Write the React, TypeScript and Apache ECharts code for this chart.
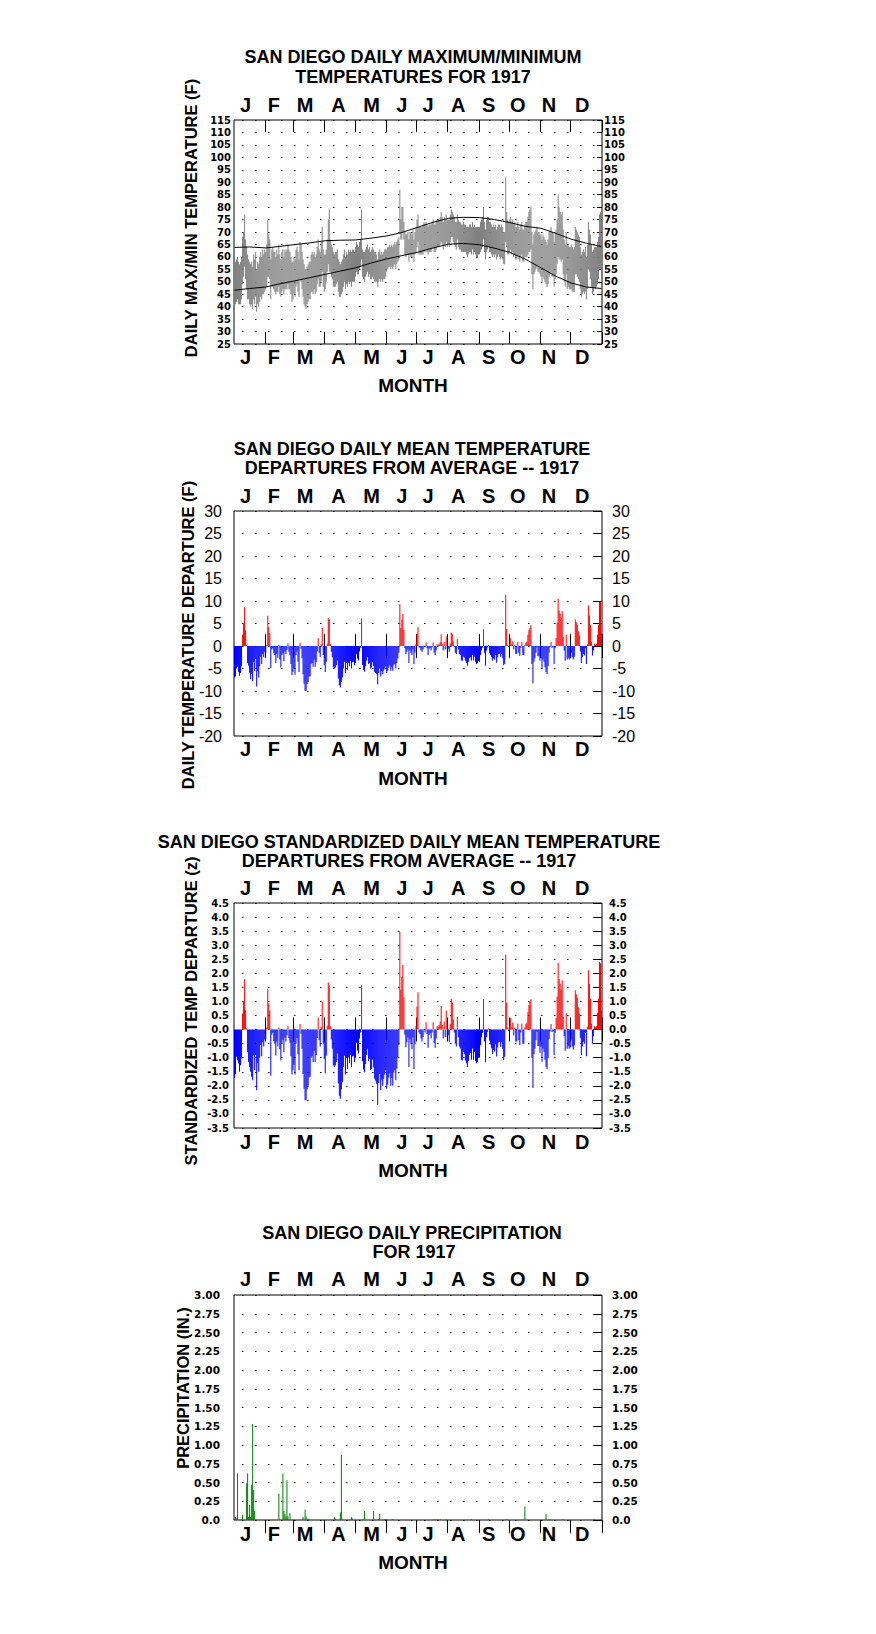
import React, { useEffect, useRef } from 'react';
import * as echarts from 'echarts';

// ---------- axis categories ----------
const MONTH_LETTERS = ['J', 'F', 'M', 'A', 'M', 'J', 'J', 'A', 'S', 'O', 'N', 'D'];
const MONTH_START_DAYS = [0, 31, 59, 90, 120, 151, 181, 212, 243, 273, 304, 334];
const MONTH_LABEL_DAYS = [11, 39, 70, 103, 136, 166, 192, 222, 252, 281, 312, 345];
const DAYS = Array.from({ length: 365 }, (_, i) => String(i));

// ---------- panel 1: daily max / min (F) ----------
const DAILY_MAX = [
  57,58,59,60,58,57,58,60,68,70,77,67,64,61,59,58,57,58,56,61,59,62,55,58,57,60,62,60,63,61,63,
  62,65,75,69,67,59,63,64,62,62,60,63,61,65,61,59,62,63,60,63,62,63,65,63,62,60,58,58,
  60,59,63,64,62,59,66,65,62,59,57,55,55,56,57,58,58,61,62,61,62,60,61,64,67,63,62,66,72,63,61,
  61,63,67,75,79,67,65,64,62,61,62,62,63,59,58,57,58,59,61,63,60,62,61,63,62,63,62,63,63,62,
  64,66,65,64,66,67,79,63,62,62,63,64,65,63,64,62,63,64,63,62,62,61,59,62,63,61,62,61,62,63,63,
  63,64,64,65,64,65,64,65,66,65,66,67,68,87,75,80,80,74,70,69,69,70,67,70,70,69,71,67,70,72,
  75,77,72,72,72,72,73,74,73,74,73,72,73,73,73,74,75,73,73,74,75,75,75,76,78,76,74,76,75,77,75,
  75,75,77,79,78,77,76,74,74,77,75,74,74,73,73,74,73,73,72,72,72,73,73,72,74,72,73,72,72,72,72,
  72,74,75,76,80,74,71,75,76,76,74,74,73,72,73,72,73,71,72,73,73,72,73,72,70,70,92,78,75,74,
  75,76,74,75,73,74,72,72,74,72,71,73,74,71,71,73,74,74,76,78,79,80,70,65,69,70,71,72,70,70,69,
  69,67,69,68,67,66,65,67,70,71,72,70,70,66,69,71,75,85,80,78,77,78,71,67,65,70,65,65,64,64,
  65,64,63,64,72,71,70,69,68,64,61,62,63,62,64,60,65,74,71,69,65,62,63,64,64,64,66,68,77,78,67,
];
const DAILY_MIN = [
  40,41,42,43,41,41,41,43,49,52,56,51,47,43,43,41,40,41,39,43,41,44,38,41,40,42,44,43,45,45,46,
  47,48,52,52,51,43,48,48,47,46,45,46,46,48,45,44,46,47,45,47,47,47,49,47,47,45,42,43,
  45,44,48,49,46,44,51,50,47,44,41,40,39,41,42,43,43,46,46,45,47,45,46,49,51,48,48,50,54,48,46,
  47,50,54,57,54,54,52,51,48,48,48,49,50,46,44,44,45,46,48,50,47,49,48,50,49,50,48,50,50,50,
  52,54,53,53,55,56,59,52,51,50,52,53,54,52,53,51,51,52,51,50,50,50,48,50,51,50,51,50,51,51,52,
  54,55,56,56,55,56,55,56,57,55,57,58,59,70,67,67,70,67,61,60,61,61,58,61,60,60,61,58,61,62,
  64,66,61,61,61,61,61,62,62,63,62,61,62,62,62,63,64,62,62,63,64,64,64,65,66,65,63,65,64,66,64,
  65,64,66,68,68,66,65,64,63,67,64,63,63,62,62,62,62,62,61,60,61,62,62,61,63,61,62,61,60,60,61,
  61,62,63,64,67,62,59,62,63,64,62,62,61,60,61,60,61,59,60,61,60,59,60,59,57,57,66,64,61,61,
  62,63,61,62,60,61,59,59,61,59,58,60,61,58,58,60,60,60,61,62,62,63,53,47,53,54,55,56,54,54,53,
  52,50,52,51,50,49,48,49,52,53,54,52,52,48,51,53,57,60,59,59,58,59,53,50,48,53,47,48,47,47,
  47,46,46,46,53,53,52,51,50,47,44,45,46,45,46,43,47,55,54,51,48,45,46,48,47,48,49,51,55,55,50,
];
const NORMAL_DAYS = [0,15,31,45,59,74,90,105,120,135,151,166,181,196,212,227,243,258,273,288,304,319,334,349,364];
const NORMAL_MAX = [63.8,64.0,63.6,64.2,64.9,65.6,66.5,66.7,66.8,67.5,68.4,69.8,71.8,73.8,75.5,75.9,75.8,75.0,73.8,72.3,71.5,69.4,67.1,65.5,64.1];
const NORMAL_MIN = [46.6,47.3,47.9,49.2,50.3,51.6,53.0,54.3,55.6,57.5,59.2,60.5,61.8,63.5,65.1,65.4,64.9,63.5,61.8,59.2,55.6,52.2,49.5,47.9,47.3];

// ---------- panel 2: daily mean departure (F) ----------
const DEPARTURE = [
  -7.0,-6.8,-5.0,-4.6,-5.8,-6.6,-6.0,-4.5,2.5,5.0,8.6,3.5,0.3,-3.8,-4.4,-5.9,-7.4,-6.2,-7.8,-3.6,-5.5,-2.9,-9.0,-5.6,-7.0,-4.5,-2.4,-4.0,-1.8,-2.5,-1.3,
  -1.5,0.3,6.7,4.2,2.9,-4.9,-0.8,-0.5,-1.5,-2.0,-3.8,-1.8,-2.6,0.3,-3.0,-4.8,-2.0,-1.6,-3.4,-1.2,-1.8,-0.9,0.6,-1.3,-2.0,-4.0,-6.5,-5.8,
  -5.0,-6.4,-2.0,-1.2,-3.5,-5.8,0.8,-0.6,-2.7,-6.3,-8.4,-10.0,-10.0,-8.5,-8.0,-6.8,-6.7,-4.0,-3.8,-4.6,-3.0,-4.6,-3.6,-1.2,1.7,-1.5,-2.4,0.4,4.0,-2.0,-4.2,
  -5.8,-3.5,0.5,6.2,5.9,0.5,-1.3,-2.5,-4.8,-5.0,-4.8,-4.3,-3.2,-7.2,-8.8,-9.2,-8.0,-7.0,-5.0,-3.5,-6.0,-3.8,-5.3,-3.7,-4.5,-3.4,-5.0,-3.6,-3.5,-4.3,
  -3.8,-1.8,-2.8,-3.2,-1.2,-0.4,6.1,-4.2,-5.3,-5.7,-4.5,-3.3,-2.5,-4.0,-3.7,-5.0,-4.8,-3.6,-4.5,-5.8,-6.0,-6.3,-8.5,-6.0,-5.0,-6.8,-5.6,-6.3,-5.5,-5.0,-4.5,
  -6.0,-5.5,-4.8,-4.3,-5.5,-4.8,-5.5,-4.3,-4.0,-5.0,-3.8,-2.8,-1.5,9.3,4.0,5.9,7.1,3.6,-0.5,-1.8,-1.3,-0.8,-3.8,-1.0,-1.5,-2.0,-0.8,-4.0,-1.5,0.4,
  2.7,4.2,-0.3,-0.5,-1.0,-1.3,-0.8,0.1,-0.3,0.8,-0.5,-2.0,-0.6,-0.4,-1.0,-0.3,0.8,-1.5,-2.0,-1.0,0.4,0.3,0.5,0.9,2.6,0.5,-1.0,0.9,-0.8,2.1,-0.8,
  -0.6,-1.3,0.6,3.0,2.6,1.0,-0.3,-1.5,-1.8,1.5,-0.8,-1.8,-2.0,-3.2,-3.3,-2.4,-2.6,-3.3,-3.8,-4.4,-3.5,-2.7,-2.5,-3.2,-2.0,-3.2,-2.4,-3.5,-4.0,-3.8,-3.3,
  -3.5,-2.0,-1.0,-0.4,3.7,-1.5,-4.4,-1.0,-0.3,0.2,-1.5,-2.0,-2.5,-3.3,-2.8,-3.0,-2.0,-3.7,-2.5,-1.8,-1.7,-2.4,-1.8,-2.7,-4.3,-4.0,11.4,3.8,0.3,-0.2,
  0.5,1.7,0.4,1.0,-0.8,0.3,-1.7,-1.7,0.9,-1.5,-2.2,-0.4,0.9,-2.0,-2.0,0.3,0.8,1.0,2.5,3.5,4.0,4.6,-4.0,-8.3,-3.5,-2.7,-1.5,-0.3,-2.3,-2.3,-3.3,
  -2.7,-5.0,-3.0,-3.5,-4.7,-5.8,-6.2,-4.5,-1.5,-0.3,0.9,-0.4,-0.2,-4.0,-0.5,1.8,5.2,10.5,7.9,7.2,6.2,7.7,2.0,-1.0,-3.3,2.5,-3.0,-2.6,-3.0,-2.8,
  -1.5,-2.5,-3.0,-2.4,5.9,5.3,4.7,3.3,2.4,-1.2,-3.8,-2.5,-1.8,-2.1,-0.5,-4.0,0.4,9.0,6.8,4.6,0.9,-2.1,-1.0,0.5,0.3,0.5,2.5,4.6,9.9,9.9,2.8,
];

// ---------- panel 3: standardized departure (z) ----------
const STD_DEPARTURE = [
  -1.72,-1.59,-0.97,-1.09,-1.21,-1.5,-1.27,-1.03,0.57,1.0,1.79,0.69,0.04,-0.8,-1.15,-1.33,-1.5,-1.68,-1.8,-0.92,-1.45,-0.9,-2.16,-1.2,-1.5,-1.0,-0.55,-0.95,-0.45,-0.6,-0.35,
  -0.34,0.07,1.44,0.93,0.68,-1.64,-0.18,-0.11,-0.41,-0.5,-0.92,-0.42,-0.6,0.07,-0.7,-1.1,-0.48,-0.36,-0.8,-0.28,-0.42,-0.2,0.14,-0.3,-0.47,-0.95,-1.6,-1.45,
  -1.25,-1.6,-0.5,-0.3,-0.88,-1.45,0.2,-0.15,-0.68,-1.58,-2.1,-2.5,-2.5,-2.13,-2.0,-1.7,-1.68,-1.0,-0.95,-1.15,-0.75,-1.15,-0.9,-0.3,0.43,-0.38,-0.6,0.1,1.0,-0.5,-1.05,
  -1.55,-0.93,0.13,1.67,1.57,0.13,-0.35,-0.67,-1.28,-1.33,-1.28,-1.15,-0.85,-1.92,-2.35,-2.46,-2.13,-1.87,-1.33,-0.93,-1.6,-1.01,-1.41,-0.99,-1.2,-0.91,-1.33,-0.96,-0.93,-1.15,
  -1.0,-0.47,-0.74,-0.85,-0.32,-0.1,1.58,-1.12,-1.42,-1.52,-1.22,-0.9,-0.7,-1.12,-1.05,-1.45,-1.4,-1.06,-1.35,-1.75,-1.82,-1.93,-2.67,-1.9,-1.58,-2.15,-1.78,-2.0,-1.75,-1.6,-1.45,
  -2.1,-1.95,-1.7,-1.55,-2.0,-1.72,-2.0,-1.55,-1.45,-1.8,-1.38,-1.0,-0.55,3.47,1.42,1.87,2.3,1.15,-0.18,-0.63,-0.45,-0.28,-1.33,-0.35,-0.52,-0.7,-0.28,-1.4,-0.52,0.14,
  0.82,1.33,-0.1,-0.16,-0.32,-0.42,-0.26,0.03,-0.1,0.26,-0.16,-0.65,-0.19,-0.13,-0.32,-0.1,0.26,-0.48,-0.65,-0.32,0.13,0.1,0.16,0.29,0.84,0.16,-0.32,0.29,-0.26,0.68,-0.26,
  -0.2,-0.43,0.2,1.1,0.96,0.36,-0.1,-0.5,-0.6,0.45,-0.27,-0.6,-0.67,-1.07,-1.1,-0.8,-0.87,-1.1,-1.2,-1.33,-1.12,-0.9,-0.83,-1.07,-0.67,-1.07,-0.8,-1.12,-1.2,-1.15,-1.0,
  -1.0,-0.55,-0.28,-0.11,1.08,-0.42,-1.15,-0.27,-0.08,0.05,-0.4,-0.53,-0.66,-0.87,-0.73,-0.78,-0.52,-0.96,-0.64,-0.46,-0.43,-0.61,-0.45,-0.68,-1.08,-0.97,2.67,0.95,0.07,-0.05,
  0.12,0.42,0.1,0.25,-0.2,0.07,-0.42,-0.42,0.22,-0.38,-0.55,-0.1,0.22,-0.5,-0.5,0.07,0.2,0.25,0.62,0.87,1.0,1.08,-1.0,-2.08,-0.88,-0.68,-0.38,-0.08,-0.58,-0.58,-0.82,
  -0.61,-1.14,-0.68,-0.8,-1.07,-1.32,-1.41,-1.02,-0.34,-0.07,0.2,-0.09,-0.05,-0.91,-0.11,0.41,1.18,2.37,1.8,1.64,1.41,1.75,0.45,-0.23,-0.75,0.57,-0.68,-0.59,-0.68,-0.64,
  -0.36,-0.6,-0.71,-0.57,1.4,1.26,1.12,0.79,0.57,-0.29,-0.9,-0.6,-0.43,-0.5,-0.12,-0.95,0.1,2.11,1.62,1.1,0.21,-0.5,-0.24,0.12,0.07,0.12,0.6,1.1,2.4,2.36,0.67,
];

// ---------- panel 4: daily precipitation (in.) — days with rain ----------
const PRECIP_DAYS = [1,2,3,8,12,13,14,15,16,17,18,19,20,44,48,49,50,51,52,53,55,68,70,71,73,99,100,105,106,116,117,127,129,138,143,144,149,150,151,157,198,201,204,210,235,252,270,288,309,313,326,357];
const PRECIP_IN = [0.04,0.02,0.62,0.07,0.49,0.62,0.04,0.2,0.04,0.47,1.28,0.4,0.12,0.35,0.62,0.12,0.08,0.05,0.53,0.05,0.09,0.04,0.14,0.05,0.02,0.04,0.02,0.1,0.87,0.04,0.02,0.01,0.12,0.12,0.01,0.08,0.01,0.01,0.01,0.01,0.01,0.01,0.01,0.01,0.01,0.01,0.01,0.18,0.08,0.01,0.01,0.01];

const ARIAL = '"Liberation Sans", Arial, sans-serif';
const DEJAVU = '"DejaVu Sans", sans-serif';

function xAxes(gi: number, bottomInside: boolean, bottomMargin: number, topMargin: number) {
  const tick = {
    show: true,
    inside: true,
    length: 12,
    interval: (i: number) => MONTH_START_DAYS.indexOf(i) > 0,
    lineStyle: { color: '#000', width: 1 },
  };
  const label = {
    show: true,
    interval: (i: number) => MONTH_LABEL_DAYS.indexOf(i) >= 0,
    formatter: (v: string) => MONTH_LETTERS[MONTH_LABEL_DAYS.indexOf(Number(v))] || '',
    fontFamily: ARIAL,
    fontWeight: 'bold',
    fontSize: 20,
    color: '#000',
  };
  const base = {
    type: 'category',
    gridIndex: gi,
    data: DAYS,
    boundaryGap: true,
    axisLine: { show: false },
    splitLine: { show: false },
  };
  return [
    { ...base, position: 'bottom', axisTick: { ...tick, inside: bottomInside, length: bottomInside ? 12 : 13 }, axisLabel: { ...label, margin: bottomMargin } },
    { ...base, position: 'top', axisTick: tick, axisLabel: { ...label, margin: topMargin } },
  ];
}

function yAxes(
  gi: number, min: number, max: number, interval: number,
  fmt: (v: number) => string, font: any, leftMargin: number, rightMargin: number, tickLen: number,
) {
  const label = { formatter: fmt, color: '#000', ...font };
  return [
    {
      type: 'value', gridIndex: gi, position: 'left', min, max, interval,
      axisLine: { show: false }, axisTick: { show: false },
      axisLabel: { ...label, margin: leftMargin },
      splitLine: { show: true, lineStyle: { color: '#000', width: 1, type: [1.5, 11.5], dashOffset: 5 } },
    },
    {
      type: 'value', gridIndex: gi, position: 'right', min, max, interval,
      axisLine: { show: false },
      axisTick: { show: true, inside: true, length: tickLen, lineStyle: { color: '#000', width: 1 } },
      axisLabel: { ...label, margin: rightMargin },
      splitLine: { show: false },
    },
  ];
}

function text(x: number, y: number, s: string, size: number, rotate = false) {
  return {
    type: 'text',
    x,
    y,
    rotation: rotate ? Math.PI / 2 : 0,
    style: {
      text: s,
      fill: '#000',
      font: `bold ${size}px ${ARIAL}`,
      textAlign: 'center',
      textVerticalAlign: 'middle',
    },
  };
}

function buildOption() {
  const gridBase = { show: true, borderColor: '#000', borderWidth: 1, backgroundColor: 'transparent', left: 234, width: 368 };
  const smallBold = { fontFamily: DEJAVU, fontWeight: 'bold', fontSize: 10 };
  const int = (v: number) => String(v);
  const one = (v: number) => v.toFixed(1);
  const two = (v: number) => (v === 0 ? '0.0' : v.toFixed(2));

  const signColor = (arr: number[]) =>
    arr.map((v) => ({ value: v, itemStyle: { color: v >= 0 ? '#ff0000' : '#0000ff' } }));

  return {
    animation: false,
    backgroundColor: '#ffffff',
    grid: [
      { ...gridBase, top: 120, height: 224 },
      { ...gridBase, top: 511, height: 225 },
      { ...gridBase, top: 903, height: 225 },
      { ...gridBase, top: 1295, height: 225 },
    ],
    xAxis: [
      ...xAxes(0, true, 3, 5),
      ...xAxes(1, true, 3, 5),
      ...xAxes(2, true, 4, 5),
      ...xAxes(3, false, 4, 6),
    ],
    yAxis: [
      ...yAxes(0, 25, 115, 5, int, smallBold, 3, 2, 5),
      ...yAxes(1, -20, 30, 5, int, { fontFamily: ARIAL, fontWeight: 'normal', fontSize: 16 }, 12, 10, 8),
      ...yAxes(2, -3.5, 4.5, 0.5, one, smallBold, 5, 7, 8),
      ...yAxes(3, 0, 3, 0.25, two, { ...smallBold, fontSize: 10.5 }, 14, 10, 8),
    ],
    series: [
      {
        type: 'bar', xAxisIndex: 0, yAxisIndex: 0, stack: 'range', silent: true,
        data: DAILY_MIN, itemStyle: { color: 'rgba(0,0,0,0)' }, barCategoryGap: '0%',
      },
      {
        type: 'bar', xAxisIndex: 0, yAxisIndex: 0, stack: 'range', silent: true,
        data: DAILY_MAX.map((v, i) => v - DAILY_MIN[i]), itemStyle: { color: '#808080' }, barCategoryGap: '0%',
      },
      {
        type: 'line', xAxisIndex: 0, yAxisIndex: 0, showSymbol: false, symbol: 'none', silent: true,
        data: NORMAL_DAYS.map((d, i) => [d, NORMAL_MAX[i]]), lineStyle: { color: '#000', width: 1 },
      },
      {
        type: 'line', xAxisIndex: 0, yAxisIndex: 0, showSymbol: false, symbol: 'none', silent: true,
        data: NORMAL_DAYS.map((d, i) => [d, NORMAL_MIN[i]]), lineStyle: { color: '#000', width: 1 },
      },
      {
        type: 'bar', xAxisIndex: 2, yAxisIndex: 2, silent: true,
        data: signColor(DEPARTURE), barCategoryGap: '0%',
      },
      {
        type: 'bar', xAxisIndex: 4, yAxisIndex: 4, silent: true,
        data: signColor(STD_DEPARTURE), barCategoryGap: '0%',
      },
      {
        type: 'bar', xAxisIndex: 6, yAxisIndex: 6, silent: true,
        data: PRECIP_DAYS.map((d, i) => [d, PRECIP_IN[i]]), itemStyle: { color: '#008000' }, barWidth: 1,
      },
    ],
    graphic: [
      text(413, 57, 'SAN DIEGO DAILY MAXIMUM/MINIMUM', 18),
      text(413, 77, 'TEMPERATURES FOR 1917', 18),
      text(413, 385, 'MONTH', 19),
      text(191, 218, 'DAILY MAX/MIN TEMPERATURE (F)', 16.5, true),

      text(412, 449, 'SAN DIEGO DAILY MEAN TEMPERATURE', 18),
      text(412, 468, 'DEPARTURES FROM AVERAGE -- 1917', 18),
      text(413, 778, 'MONTH', 19),
      text(188, 635, 'DAILY TEMPERATURE DEPARTURE (F)', 16.5, true),

      text(409, 842, 'SAN DIEGO STANDARDIZED DAILY MEAN TEMPERATURE', 18),
      text(409, 861, 'DEPARTURES FROM AVERAGE -- 1917', 18),
      text(413, 1170, 'MONTH', 19),
      text(191, 1011, 'STANDARDIZED TEMP DEPARTURE (z)', 16.5, true),

      text(412, 1233, 'SAN DIEGO DAILY PRECIPITATION', 18),
      text(414, 1252, 'FOR 1917', 18),
      text(413, 1562, 'MONTH', 19),
      text(183, 1388, 'PRECIPITATION (IN.)', 16.5, true),
    ],
  };
}

export default function App() {
  const ref = useRef<HTMLDivElement>(null);
  useEffect(() => {
    document.body.style.margin = '0';
    const chart = echarts.init(ref.current as HTMLDivElement, null, { renderer: 'svg' });
    chart.setOption(buildOption() as any);
    return () => chart.dispose();
  }, []);
  return <div ref={ref} style={{ width: 876, height: 1634, background: '#fff' }} />;
}
